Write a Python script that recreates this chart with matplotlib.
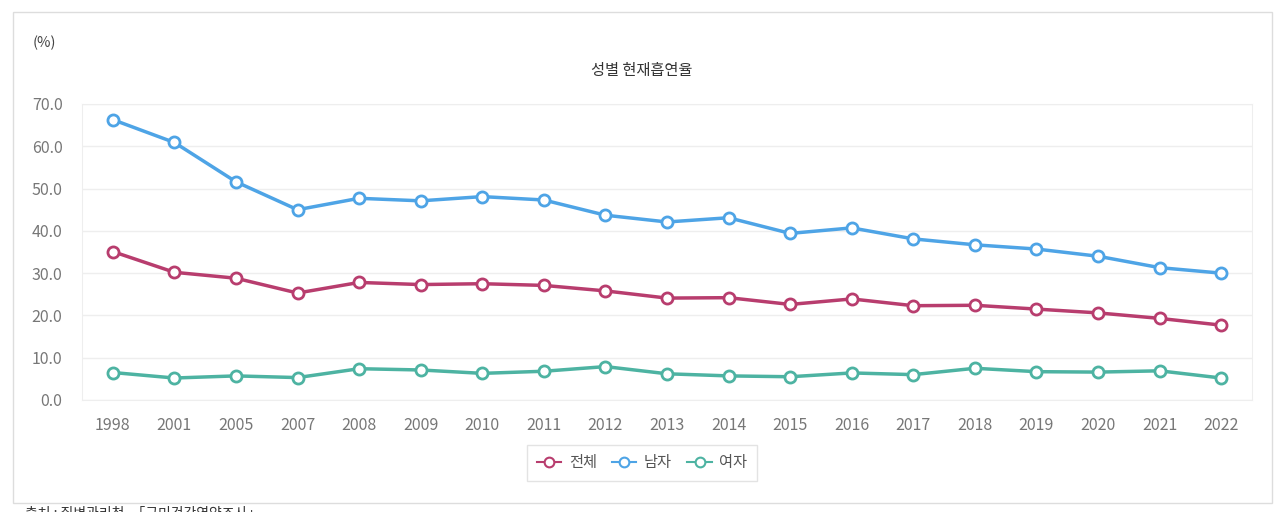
import matplotlib
matplotlib.use("Agg")
from matplotlib import pyplot as plt
import matplotlib.patches as mpatches

plt.rcParams['font.family'] = ['Noto Sans CJK KR', 'DejaVu Sans']

years = ["1998", "2001", "2005", "2007", "2008", "2009", "2010", "2011", "2012", "2013",
         "2014", "2015", "2016", "2017", "2018", "2019", "2020", "2021", "2022"]
total = [35.1, 30.2, 28.8, 25.3, 27.8, 27.3, 27.5, 27.1, 25.8, 24.1,
         24.2, 22.6, 23.9, 22.3, 22.4, 21.5, 20.6, 19.3, 17.7]
men = [66.3, 60.9, 51.6, 45.0, 47.7, 47.1, 48.1, 47.3, 43.7, 42.1,
       43.1, 39.4, 40.7, 38.1, 36.7, 35.7, 34.0, 31.3, 30.0]
women = [6.5, 5.2, 5.7, 5.3, 7.4, 7.1, 6.3, 6.8, 7.9, 6.2,
         5.7, 5.5, 6.4, 6.0, 7.5, 6.7, 6.6, 6.9, 5.2]
labels = ["전체", "남자", "여자"]
colors = ["#b83d6e", "#4ea4e6", "#4db3a2"]

fig = plt.figure(figsize=(12.8, 5.12), dpi=100)

# outer frame
fig.patches.append(mpatches.Rectangle((13 / 1280, 1 - 503 / 512), 1259 / 1280, 491 / 512,
                                      transform=fig.transFigure, fill=False,
                                      edgecolor="#dddddd", linewidth=1))

ax = fig.add_axes([82 / 1280, 1 - 400 / 512, 1170 / 1280, 296 / 512])
x = list(range(len(years)))
for series, lab, col in zip([total, men, women], labels, colors):
    ax.plot(x, series, color=col, linewidth=2.5, marker="o", markersize=8,
            markerfacecolor="white", markeredgecolor=col, markeredgewidth=2,
            label=lab, zorder=3)

ax.set_xlim(-0.5, len(years) - 0.5)
ax.set_ylim(0, 70)
ax.set_yticks(range(0, 71, 10))
ax.set_yticklabels([f"{v:.1f}" for v in range(0, 71, 10)])
ax.set_xticks(x)
ax.set_xticklabels(years)
ax.tick_params(length=0, labelsize=11.5, labelcolor="#777777")
ax.tick_params(axis="x", pad=12)
ax.tick_params(axis="y", pad=14)
ax.grid(axis="y", color="#eeeeee", linewidth=1)
for s in ax.spines.values():
    s.set_color("#eeeeee")

fig.text(33 / 1280, 1 - 43 / 512, "(%)", fontsize=10.5, color="#444444", va="center")
fig.text(642 / 1280, 1 - 71 / 512, "성별 현재흡연율", fontsize=11, color="#333333",
         ha="center", va="center")

leg = fig.legend(loc="center", bbox_to_anchor=(642 / 1280, 1 - 463 / 512), ncol=3,
                 frameon=True, fancybox=False, fontsize=11, handlelength=1.6,
                 columnspacing=1.0, handletextpad=0.5, borderpad=0.6)
leg.get_frame().set_edgecolor("#dddddd")
leg.get_frame().set_linewidth(1)
for h in leg.legend_handles:
    h.set_linewidth(1.5)
    h.set_markersize(7)
    h.set_markeredgewidth(1.5)
for t in leg.get_texts():
    t.set_color("#555555")

fig.text(25 / 1280, 1 - 506 / 512, "출처 : 질병관리청, 「국민건강영양조사」", fontsize=10,
         color="#333333", va="top")

fig.savefig("out.png", dpi=100)
